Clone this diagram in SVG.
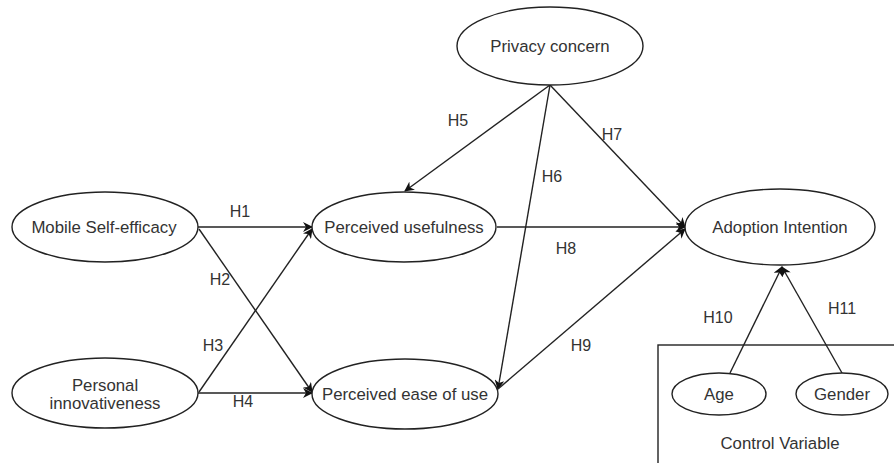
<svg xmlns="http://www.w3.org/2000/svg" width="894" height="463" viewBox="0 0 894 463">
<defs>
<marker id="arr" viewBox="0 0 10 10" refX="9" refY="5" markerWidth="10" markerHeight="10" orient="auto" markerUnits="userSpaceOnUse">
<path d="M0,0 L10,5 L0,10 L3,5 Z" fill="#111"/>
</marker>
</defs>
<style>
.n{fill:#fff;stroke:#222;stroke-width:1.4}
.t{font-family:"Liberation Sans",Arial,sans-serif;font-size:16.8px;fill:#333;text-anchor:middle;dominant-baseline:central}
.l{font-family:"Liberation Sans",Arial,sans-serif;font-size:16px;fill:#333;text-anchor:middle;dominant-baseline:central}
.c{stroke:#222;stroke-width:1.4;fill:none;marker-end:url(#arr)}
</style>
<rect width="894" height="463" fill="#fff"/>
<g id="control-box">
<rect x="658" y="345" width="240" height="130" fill="none" stroke="#222" stroke-width="1.4"/>
<text class="t" x="780" y="443">Control Variable</text>
</g>
<g id="connectors">
<line class="c" x1="198" y1="227" x2="312" y2="227"/>
<line class="c" x1="199" y1="229" x2="312" y2="392"/>
<line class="c" x1="199" y1="392" x2="312" y2="229"/>
<line class="c" x1="198" y1="393" x2="312" y2="393"/>
<line class="c" x1="550" y1="85" x2="405" y2="191"/>
<line class="c" x1="550" y1="85" x2="498" y2="389"/>
<line class="c" x1="550" y1="85" x2="685" y2="227"/>
<line class="c" x1="497" y1="227" x2="685" y2="227"/>
<line class="c" x1="498" y1="389" x2="685" y2="229"/>
<line class="c" x1="730" y1="373" x2="782" y2="267"/>
<line class="c" x1="842" y1="373" x2="782" y2="267"/>
<text class="l" x="240" y="211">H1</text>
<text class="l" x="220" y="279">H2</text>
<text class="l" x="213" y="345">H3</text>
<text class="l" x="243" y="401">H4</text>
<text class="l" x="458" y="120">H5</text>
<text class="l" x="552" y="176">H6</text>
<text class="l" x="612" y="134">H7</text>
<text class="l" x="566" y="248">H8</text>
<text class="l" x="581" y="345">H9</text>
<text class="l" x="718" y="317">H10</text>
<text class="l" x="842" y="308">H11</text>
</g>
<g id="mobile-self-efficacy">
<ellipse class="n" cx="105" cy="227" rx="93" ry="35"/>
<text class="t" x="104" y="227">Mobile Self-efficacy</text>
</g>
<g id="personal-innovativeness">
<ellipse class="n" cx="105" cy="393" rx="93" ry="35"/>
<text class="t" x="105" y="385">Personal</text>
<text class="t" x="105" y="403">innovativeness</text>
</g>
<g id="perceived-usefulness">
<ellipse class="n" cx="404" cy="227" rx="92" ry="35"/>
<text class="t" x="404" y="227">Perceived usefulness</text>
</g>
<g id="perceived-ease-of-use">
<ellipse class="n" cx="405" cy="394" rx="93" ry="35"/>
<text class="t" x="405" y="394">Perceived ease of use</text>
</g>
<g id="privacy-concern">
<ellipse class="n" cx="550" cy="46" rx="93" ry="39"/>
<text class="t" x="550" y="46">Privacy concern</text>
</g>
<g id="adoption-intention">
<ellipse class="n" cx="780" cy="227" rx="95" ry="38"/>
<text class="t" x="780" y="227">Adoption Intention</text>
</g>
<g id="age">
<ellipse class="n" cx="719" cy="394" rx="47" ry="21"/>
<text class="t" x="719" y="394">Age</text>
</g>
<g id="gender">
<ellipse class="n" cx="842" cy="394" rx="46" ry="21"/>
<text class="t" x="842" y="394">Gender</text>
</g>
</svg>
